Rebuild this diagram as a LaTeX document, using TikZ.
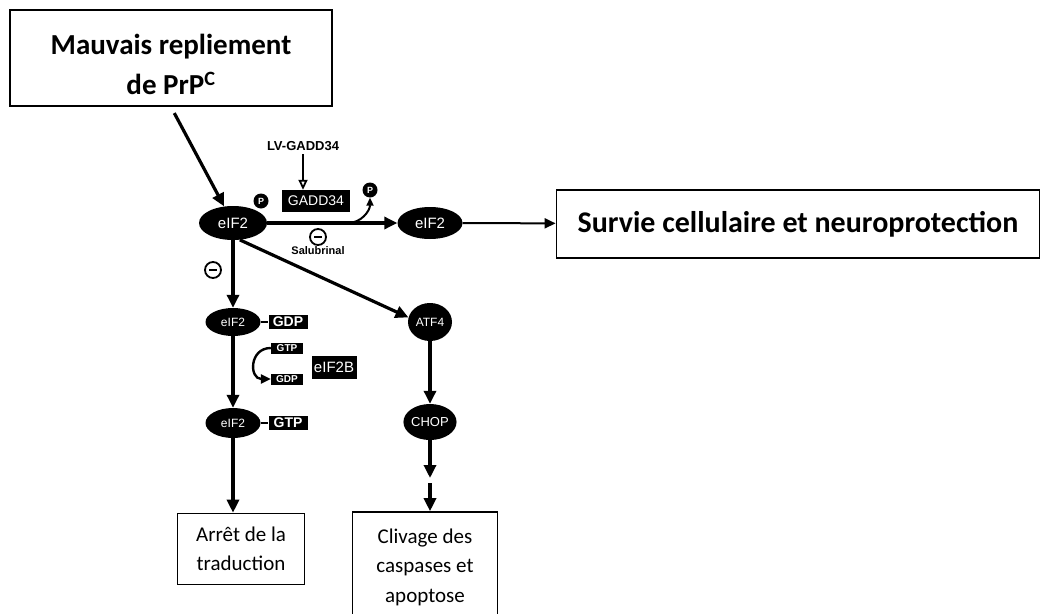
\documentclass[tikz,border=0pt]{standalone}
\usepackage{fontspec}
\setmainfont{Carlito}
\newfontfamily\labfont{Liberation Sans}
\usetikzlibrary{arrows.meta,shapes.geometric}
\tikzset{bigbox/.style={draw,line width=1.8pt,align=center,font=\fontsize{29}{40}\selectfont\bfseries},
  outbox/.style={draw,line width=1.6pt,align=center,font=\fontsize{21}{29.5}\selectfont},
  prot/.style={ellipse,fill=black,text=white,inner sep=0pt,font=\labfont\fontsize{12}{12}\selectfont},
  tag/.style={rectangle,fill=black,text=white,inner sep=1pt,minimum width=39pt,minimum height=14pt,font=\labfont\bfseries\fontsize{14}{14}\selectfont},
  small tag/.style={tag,minimum width=32pt,minimum height=11pt,font=\labfont\bfseries\fontsize{10}{10}\selectfont},
  phos/.style={circle,fill=black,text=white,minimum size=15pt,inner sep=0pt,font=\labfont\bfseries\fontsize{9}{9}\selectfont},
  inhib/.style={circle,draw,fill=white,line width=1.8pt,minimum size=16pt,inner sep=0pt},
  arrow/.style={-{Triangle[length=13pt,width=12pt]},line width=3.2pt}}

\begin{document}
\begin{tikzpicture}[x=1pt,y=-1pt]
  \path[use as bounding box] (0,0) rectangle (1048,613);
  % trigger
  \node[bigbox,minimum width=322pt,minimum height=96pt] (misf) at (171,58) {\rule{0pt}{33pt}Mauvais repliement\\de PrP\textsuperscript{C}};
  \node[prot,minimum width=68pt,minimum height=34pt,font=\labfont\fontsize{15}{15}\selectfont] (e1) at (233,223) {eIF2};
  \node[phos] (p1) at (261,201) {P};
  \draw[arrow,shorten <=7pt] (misf.south) -- (e1);
  % GADD34 dephosphorylation
  \node[font=\labfont\bfseries\fontsize{13}{13}\selectfont] (lv) at (303,146) {LV-GADD34};
  \node[tag,minimum width=68pt,minimum height=22pt,font=\labfont\fontsize{14}{14}\selectfont] (gadd) at (316,201) {GADD34};
  \draw[-{Triangle[open,length=10pt,width=9pt]},line width=1.8pt] (lv.south) -- (lv.south |- gadd.north);
  \node[prot,minimum width=65pt,minimum height=32pt,font=\labfont\fontsize{15}{15}\selectfont] (e2) at (430,223) {eIF2};
  \node[phos] (p2) at (370,190) {P};
  \draw[arrow] (e1) -- (e2);
  \coordinate (split) at (348,223);
  \draw[-{Triangle[length=8pt,width=7pt]},line width=2pt] (split) to[out=0,in=-90] (p2);
  \node[inhib] (sal) at (318,237) {\rule{8pt}{2.8pt}};
  \node[font=\labfont\bfseries\fontsize{11}{11}\selectfont] (saltxt) at (318,251) {Salubrinal};
  \node[bigbox,minimum width=483pt,minimum height=68pt,font=\fontsize{30}{36}\selectfont\bfseries] (surv) at (798,224) {Survie cellulaire et neuroprotection};
  \draw[-{Triangle[length=11pt,width=10pt]},line width=2pt] (e2) -- (surv);
  % translation branch
  \node[prot,minimum width=55pt,minimum height=28pt] (e3) at (233,322) {eIF2};
  \node[tag] (gdp1) at (288,322) {GDP};
  \draw[line width=2.6pt] (e3) -- (gdp1);
  \draw[arrow] (e1) -- (e3);
  \node[inhib] (inh2) at (213,270) {\rule{8pt}{2.8pt}};
  \node[small tag] (gtpin) at (287,348) {GTP};
  \node[small tag] (gdpout) at (287,379) {GDP};
  \node[tag,minimum width=45pt,minimum height=23pt,font=\labfont\fontsize{15}{15}\selectfont] (eb) at (334,367) {eIF2B};
  \draw[-{Triangle[length=10pt,width=9pt]},line width=2.4pt] (gtpin.west) to[out=180,in=180,looseness=1.8] (gdpout.west);
  \node[prot,minimum width=55pt,minimum height=30pt] (e4) at (233,423) {eIF2};
  \node[tag] (gtp2) at (288,423) {GTP};
  \draw[line width=2.6pt] (e4) -- (gtp2);
  \draw[arrow] (e3) -- (e4);
  \node[outbox,minimum width=127pt,minimum height=71pt] (arret) at (241,549) {Arrêt de la\\traduction};
  \draw[arrow] (e4.south) -- (e4.south |- arret.north);
  % apoptosis branch
  \node[prot,minimum width=44pt,minimum height=38pt] (atf) at (430,322) {ATF4};
  \draw[arrow] (e1.-68) -- (atf.168);
  \node[prot,minimum width=50pt,minimum height=36pt,font=\labfont\fontsize{13}{13}\selectfont] (chop) at (430,422) {CHOP};
  \draw[arrow] (atf) -- (chop);
  \node[outbox,minimum width=145pt,minimum height=110pt] (cliv) at (425,567) {Clivage des\\caspases et\\apoptose};
  \coordinate (c1) at (430,478);
  \coordinate (c2) at (430,483);
  \draw[arrow] (chop) -- (c1);
  \draw[arrow] (c2) -- (c2 |- cliv.north);
\end{tikzpicture}
\end{document}
